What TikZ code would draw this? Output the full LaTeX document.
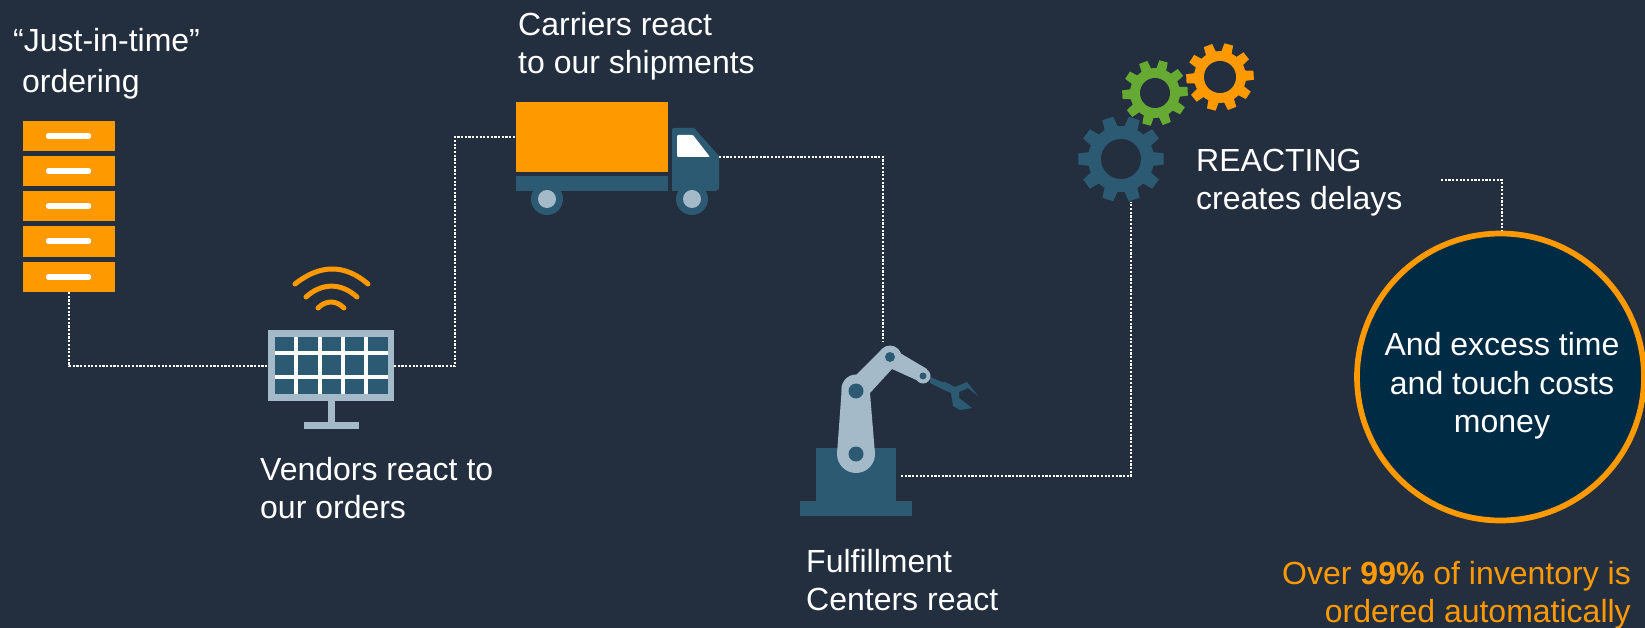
\documentclass[tikz,border=0pt]{standalone}
\usepackage{fontspec}
\setmainfont{Liberation Sans}
\definecolor{bg}{HTML}{232F3E}
\definecolor{org}{HTML}{FF9900}
\definecolor{teal}{HTML}{2D5A73}
\definecolor{pale}{HTML}{A5BAC9}
\definecolor{grn}{HTML}{66AA33}
\definecolor{navy}{HTML}{002B45}
\tikzset{
  x=1pt,y=-1pt,
  lbl/.style={text=white,font=\fontsize{32}{38.3}\selectfont,align=left,anchor=north west,inner sep=0pt},
  dots/.style={draw=white,line width=2.2pt,dash pattern=on 2.2pt off 1.5pt},
  bar/.style={draw=white,line width=5.5pt,line cap=round},
  wifi/.style={draw=org,line width=5pt,line cap=round}
}
\newcommand{\gearshape}[8]{% cx cy Rout Rroot Rhole teeth colour rot
  \fill[#7] (#1,#2) circle (#4);
  \pgfmathsetmacro{\stepang}{360/#6}
  \foreach \k in {1,...,#6}{
    \pgfmathsetmacro{\aa}{(\k-1)*\stepang+#8}
    \fill[#7] ({#1+(#4-2)*cos(\aa-0.36*\stepang)},{#2+(#4-2)*sin(\aa-0.36*\stepang)})
      -- ({#1+#3*cos(\aa-0.21*\stepang)},{#2+#3*sin(\aa-0.21*\stepang)})
      -- ({#1+#3*cos(\aa+0.21*\stepang)},{#2+#3*sin(\aa+0.21*\stepang)})
      -- ({#1+(#4-2)*cos(\aa+0.36*\stepang)},{#2+(#4-2)*sin(\aa+0.36*\stepang)}) -- cycle;
  }
  \fill[bg] (#1,#2) circle (#5);
}
\begin{document}
\begin{tikzpicture}
\fill[bg] (0,0) rectangle (1645,628);
\useasboundingbox (0,0) rectangle (1645,628);
% hooks
\coordinate (c1) at (69,366);
\coordinate (c2) at (455,366);
\coordinate (c3) at (455,137);
\coordinate (c4) at (883,157);
\coordinate (c5) at (1131,476);
\coordinate (c6) at (1502,180);
% drawers
\foreach \yy/\h in {121/30,156/30,191/30,226/31,262/30}{
  \fill[org] (23,\yy) rectangle ++(92,\h);
  \draw[bar] (48.5,\yy+15) -- (88.5,\yy+15);
}
\coordinate (draw5) at (69,292);
% monitor
\fill[pale] (268,330) rectangle (394,401);
\fill[pale] (328,401) rectangle (335,423);
\fill[pale] (304,422) rectangle (359,429);
\fill[teal] (275,337) rectangle (388,394);
\foreach \xx in {296,320,343,366} \fill[white] (\xx-2,337) rectangle (\xx+2,394);
\foreach \yy in {353,377} \fill[white] (275,\yy-2) rectangle (388,\yy+2);
\coordinate (monL) at (268,366);
\coordinate (monR) at (394,366);
% wifi
\draw[wifi] (295,284) .. controls (320,264) and (345,264) .. (368,284);
\draw[wifi] (306,297) .. controls (322,282.5) and (341,282.5) .. (357,297);
\draw[wifi] (318,308) .. controls (326,300) and (336,300) .. (344,308);
% truck
\fill[org] (516,102) rectangle (668,172);
\fill[teal] (516,176) rectangle (668,191);
\fill[teal] (672,130) .. controls (672,128) and (673,128) .. (675,128) -- (694,128) -- (719,156) -- (719,186) .. controls (719,190) and (718,191) .. (715,191) -- (672,191) -- cycle;
\fill[white,rounded corners=1pt] (677,135) -- (693,135) -- (710,157) -- (677,157) -- cycle;
\fill[teal] (547,199) circle (16);
\fill[pale] (547,199) circle (9);
\fill[teal] (692,199) circle (16);
\fill[pale] (692,199) circle (9);
\coordinate (trL) at (516,137);
\coordinate (trR) at (719,157);
% robot
\fill[teal] (816,448) rectangle (896,501);
\fill[teal] (800,501) rectangle (912,516);
\fill[teal] (930,377) -- (942,382) -- (945,382) -- (955,387) -- (967,382) -- (978,396) -- (968,388) -- (959,392) -- (959,398) -- (972,408) -- (960,410) -- (953,406) -- (951,393) -- (942,389) -- (930,383) -- cycle;
\fill[pale] (856,454) circle (19);
\fill[pale] (842,385) -- (837,454) -- (875,454) -- (870,393) -- cycle;
\fill[pale] (856,389) circle (14.5);
\fill[pale] (856,375) -- (881,350) -- (900,353) -- (927,369) -- (923,383) -- (892,369) -- (870,393) -- (856,395) -- cycle;
\fill[pale] (890,357) circle (11.5);
\fill[pale] (923,376) circle (7.5);
\fill[teal] (856,454) circle (7.5);
\fill[teal] (856,391) circle (7.5);
\fill[teal] (890,357) circle (5);
\fill[teal] (923,376) circle (3.5);
\coordinate (robTop) at (883,342);
\coordinate (robR) at (901,476);
% gears
\gearshape{1121}{159}{43}{33}{20}{10}{teal}{0}
\gearshape{1155}{93}{33}{25}{15}{10}{grn}{-3}
\gearshape{1220}{77}{34}{26}{16}{10}{org}{-3}
\coordinate (gearB) at (1131,202);
% circle
\node[circle,draw=org,fill=navy,line width=5.7pt,minimum size=287pt,inner sep=0pt] (big) at (1500.5,377) {};
\node[text=white,font=\fontsize{32}{38.3}\selectfont,align=center] (bigt) at (1502,386) {And excess time\\and touch costs\\money};
\coordinate (reactR) at (1441,180);
% connectors
\draw[dots] (draw5) -- (c1) -- (monL);
\draw[dots] (monR) -- (c2) -- (c3) -- (trL);
\draw[dots] (trR) -- (c4) -- (robTop);
\draw[dots] (robR) -- (c5) -- (gearB);
\draw[dots] (reactR) -- (c6) -- (c6 |- big.north);
% labels
\node[lbl,font=\fontsize{32}{41}\selectfont] (l1) at (13,28) {“Just-in-time”\\\hspace*{9pt}ordering};
\node[lbl] (l2) at (518,12) {Carriers react\\to our shipments};
\node[lbl] (l3) at (260,457) {Vendors react to\\our orders};
\node[lbl] (l4) at (806,549) {Fulfillment\\Centers react};
\node[lbl] (l5) at (1196,149) {REACTING\\creates delays};
\node[lbl,text=org,align=right,anchor=north east] (l6) at (1631,561) {Over \textbf{99\%} of inventory is\\ordered automatically};
\end{tikzpicture}
\end{document}
